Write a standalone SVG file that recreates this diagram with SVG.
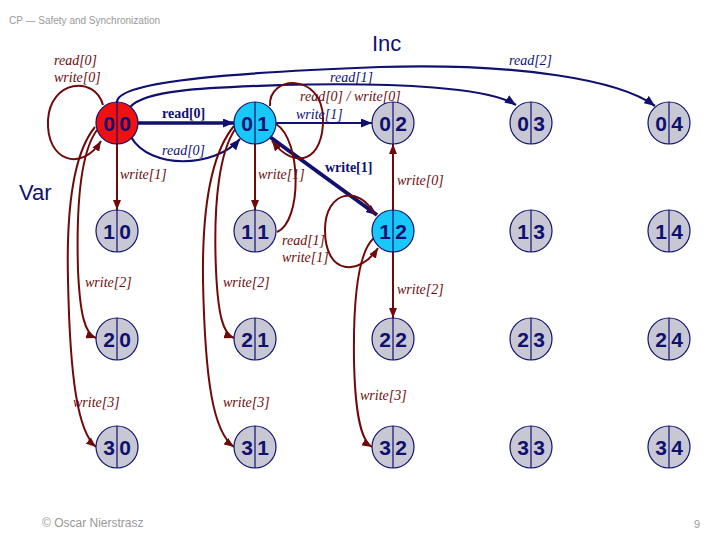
<svg xmlns="http://www.w3.org/2000/svg" width="720" height="540" viewBox="0 0 720 540">
<style>
.nd{stroke:#101070;stroke-width:1.2}
.g{fill:#c8c8d4}.c{fill:#18c8f8}.r{fill:#f01010}
.dv{stroke:#101070;stroke-width:1.2}
.dg{font-family:"Liberation Sans",Arial,sans-serif;font-weight:bold;font-size:21px;fill:#101070;text-anchor:middle}
.er{fill:none;stroke:#700a0a;stroke-width:2}
.en{fill:none;stroke:#101070;stroke-width:2.2}
.lr{font-family:"Liberation Serif","Times New Roman",serif;font-style:italic;font-size:14px;fill:#700a0a}
.ln{font-family:"Liberation Serif","Times New Roman",serif;font-style:italic;font-size:14px;fill:#101070}
.bd{font-family:"Liberation Serif","Times New Roman",serif;font-weight:bold;font-size:14px;fill:#101070}
.big{font-family:"Liberation Sans",Arial,sans-serif;font-size:22px;fill:#101070}
.gr{font-family:"Liberation Sans",Arial,sans-serif;fill:#999}
</style>
<defs>
<marker id="ar" markerUnits="userSpaceOnUse" markerWidth="10" markerHeight="8" refX="10" refY="4" orient="auto"><path d="M0,0 L10,4 L0,8 z" fill="#700a0a"/></marker>
<marker id="an" markerUnits="userSpaceOnUse" markerWidth="11" markerHeight="9" refX="11" refY="4.5" orient="auto"><path d="M0,0 L11,4.5 L0,9 z" fill="#101070"/></marker>
</defs>
<rect width="720" height="540" fill="#fff"/>
<text class="gr" x="9" y="24" font-size="10">CP — Safety and Synchronization</text>
<text class="big" x="372" y="51">Inc</text>
<text class="big" x="19" y="200">Var</text>
<text class="gr" x="42" y="527" font-size="12">© Oscar Nierstrasz</text>
<text class="gr" x="694" y="528" font-size="11">9</text>

<g id="connectors">
<!-- navy -->
<path class="en" d="M117,102 C117,80 250,72 380,67 C520,63 620,80 655,106" marker-end="url(#an)"/>
<path class="en" d="M130,107 C145,90 200,88 280,85 C400,82 490,88 516,105" marker-end="url(#an)"/>
<path class="en" style="stroke-width:3.5" d="M138,123 L234,123" marker-end="url(#an)"/>
<path class="en" d="M131,137 C150,170 215,168 240,139" marker-end="url(#an)"/>
<path class="en" d="M276,123 L372,123" marker-end="url(#an)"/>
<path class="en" style="stroke-width:4" d="M270,137 L377,215" marker-end="url(#an)"/>
<!-- dark red -->
<path class="er" d="M103,105 C95,75 50,80 48,120 C46,162 82,172 101,141" marker-end="url(#ar)"/>
<path class="er" d="M117,144 L117,210" marker-end="url(#ar)"/>
<path class="er" d="M97,130 C82,150 76,200 78,270 C80,315 85,334 96,338" marker-end="url(#ar)"/>
<path class="er" d="M95,127 C76,150 66,200 68,280 C70,380 78,432 96,447" marker-end="url(#ar)"/>
<path class="er" d="M270,106 C268,75 322,72 323,118 C324,160 296,172 272,141" marker-end="url(#ar)"/>
<path class="er" d="M255,144 L255,210" marker-end="url(#ar)"/>
<path class="er" d="M276,124 C302,140 302,222 277,232"/>
<path class="er" d="M236,128 C220,150 213,200 216,270 C218,315 223,334 234,338" marker-end="url(#ar)"/>
<path class="er" d="M234,126 C214,150 202,200 203,280 C205,380 213,432 234,447" marker-end="url(#ar)"/>
<path class="er" d="M374,214 C360,185 325,190 325,230 C325,276 360,276 378,248" marker-end="url(#ar)"/>
<path class="er" d="M393,210 L393,144" marker-end="url(#ar)"/>
<path class="er" d="M393,252 L393,318" marker-end="url(#ar)"/>
<path class="er" d="M374,238 C360,250 353,290 354,360 C355,410 360,440 372,447" marker-end="url(#ar)"/>
</g>

<g id="labels">
<text class="lr" x="54" y="65">read[0]</text>
<text class="lr" x="54" y="82">write[0]</text>
<text class="bd" x="162" y="118">read[0]</text>
<text class="ln" x="162" y="155">read[0]</text>
<text class="lr" x="120" y="179">write[1]</text>
<text class="ln" x="330" y="82">read[1]</text>
<text class="ln" x="509" y="65">read[2]</text>
<text class="lr" x="300" y="101">read[0] / write[0]</text>
<text class="ln" x="296" y="119">write[1]</text>
<text class="lr" x="258" y="179">write[1]</text>
<text class="bd" x="325" y="172">write[1]</text>
<text class="lr" x="397" y="185">write[0]</text>
<text class="lr" x="282" y="245">read[1]</text>
<text class="lr" x="282" y="262">write[1]</text>
<text class="lr" x="85" y="287">write[2]</text>
<text class="lr" x="223" y="287">write[2]</text>
<text class="lr" x="397" y="294">write[2]</text>
<text class="lr" x="73" y="407">write[3]</text>
<text class="lr" x="223" y="407">write[3]</text>
<text class="lr" x="360" y="400">write[3]</text>
</g>

<g id="n00" transform="translate(117,123)"><circle class="nd r" r="21"/><line class="dv" x1="0" y1="-21" x2="0" y2="21"/><text class="dg" x="-8" y="7.5">0</text><text class="dg" x="8" y="7.5">0</text></g>
<g id="n01" transform="translate(255,123)"><circle class="nd c" r="21"/><line class="dv" x1="0" y1="-21" x2="0" y2="21"/><text class="dg" x="-8" y="7.5">0</text><text class="dg" x="8" y="7.5">1</text></g>
<g id="n02" transform="translate(393,123)"><circle class="nd g" r="21"/><line class="dv" x1="0" y1="-21" x2="0" y2="21"/><text class="dg" x="-8" y="7.5">0</text><text class="dg" x="8" y="7.5">2</text></g>
<g id="n03" transform="translate(531,123)"><circle class="nd g" r="21"/><line class="dv" x1="0" y1="-21" x2="0" y2="21"/><text class="dg" x="-8" y="7.5">0</text><text class="dg" x="8" y="7.5">3</text></g>
<g id="n04" transform="translate(669,123)"><circle class="nd g" r="21"/><line class="dv" x1="0" y1="-21" x2="0" y2="21"/><text class="dg" x="-8" y="7.5">0</text><text class="dg" x="8" y="7.5">4</text></g>
<g id="n10" transform="translate(117,231)"><circle class="nd g" r="21"/><line class="dv" x1="0" y1="-21" x2="0" y2="21"/><text class="dg" x="-8" y="7.5">1</text><text class="dg" x="8" y="7.5">0</text></g>
<g id="n11" transform="translate(255,231)"><circle class="nd g" r="21"/><line class="dv" x1="0" y1="-21" x2="0" y2="21"/><text class="dg" x="-8" y="7.5">1</text><text class="dg" x="8" y="7.5">1</text></g>
<g id="n12" transform="translate(393,231)"><circle class="nd c" r="21"/><line class="dv" x1="0" y1="-21" x2="0" y2="21"/><text class="dg" x="-8" y="7.5">1</text><text class="dg" x="8" y="7.5">2</text></g>
<g id="n13" transform="translate(531,231)"><circle class="nd g" r="21"/><line class="dv" x1="0" y1="-21" x2="0" y2="21"/><text class="dg" x="-8" y="7.5">1</text><text class="dg" x="8" y="7.5">3</text></g>
<g id="n14" transform="translate(669,231)"><circle class="nd g" r="21"/><line class="dv" x1="0" y1="-21" x2="0" y2="21"/><text class="dg" x="-8" y="7.5">1</text><text class="dg" x="8" y="7.5">4</text></g>
<g id="n20" transform="translate(117,339)"><circle class="nd g" r="21"/><line class="dv" x1="0" y1="-21" x2="0" y2="21"/><text class="dg" x="-8" y="7.5">2</text><text class="dg" x="8" y="7.5">0</text></g>
<g id="n21" transform="translate(255,339)"><circle class="nd g" r="21"/><line class="dv" x1="0" y1="-21" x2="0" y2="21"/><text class="dg" x="-8" y="7.5">2</text><text class="dg" x="8" y="7.5">1</text></g>
<g id="n22" transform="translate(393,339)"><circle class="nd g" r="21"/><line class="dv" x1="0" y1="-21" x2="0" y2="21"/><text class="dg" x="-8" y="7.5">2</text><text class="dg" x="8" y="7.5">2</text></g>
<g id="n23" transform="translate(531,339)"><circle class="nd g" r="21"/><line class="dv" x1="0" y1="-21" x2="0" y2="21"/><text class="dg" x="-8" y="7.5">2</text><text class="dg" x="8" y="7.5">3</text></g>
<g id="n24" transform="translate(669,339)"><circle class="nd g" r="21"/><line class="dv" x1="0" y1="-21" x2="0" y2="21"/><text class="dg" x="-8" y="7.5">2</text><text class="dg" x="8" y="7.5">4</text></g>
<g id="n30" transform="translate(117,447)"><circle class="nd g" r="21"/><line class="dv" x1="0" y1="-21" x2="0" y2="21"/><text class="dg" x="-8" y="7.5">3</text><text class="dg" x="8" y="7.5">0</text></g>
<g id="n31" transform="translate(255,447)"><circle class="nd g" r="21"/><line class="dv" x1="0" y1="-21" x2="0" y2="21"/><text class="dg" x="-8" y="7.5">3</text><text class="dg" x="8" y="7.5">1</text></g>
<g id="n32" transform="translate(393,447)"><circle class="nd g" r="21"/><line class="dv" x1="0" y1="-21" x2="0" y2="21"/><text class="dg" x="-8" y="7.5">3</text><text class="dg" x="8" y="7.5">2</text></g>
<g id="n33" transform="translate(531,447)"><circle class="nd g" r="21"/><line class="dv" x1="0" y1="-21" x2="0" y2="21"/><text class="dg" x="-8" y="7.5">3</text><text class="dg" x="8" y="7.5">3</text></g>
<g id="n34" transform="translate(669,447)"><circle class="nd g" r="21"/><line class="dv" x1="0" y1="-21" x2="0" y2="21"/><text class="dg" x="-8" y="7.5">3</text><text class="dg" x="8" y="7.5">4</text></g>
</svg>
